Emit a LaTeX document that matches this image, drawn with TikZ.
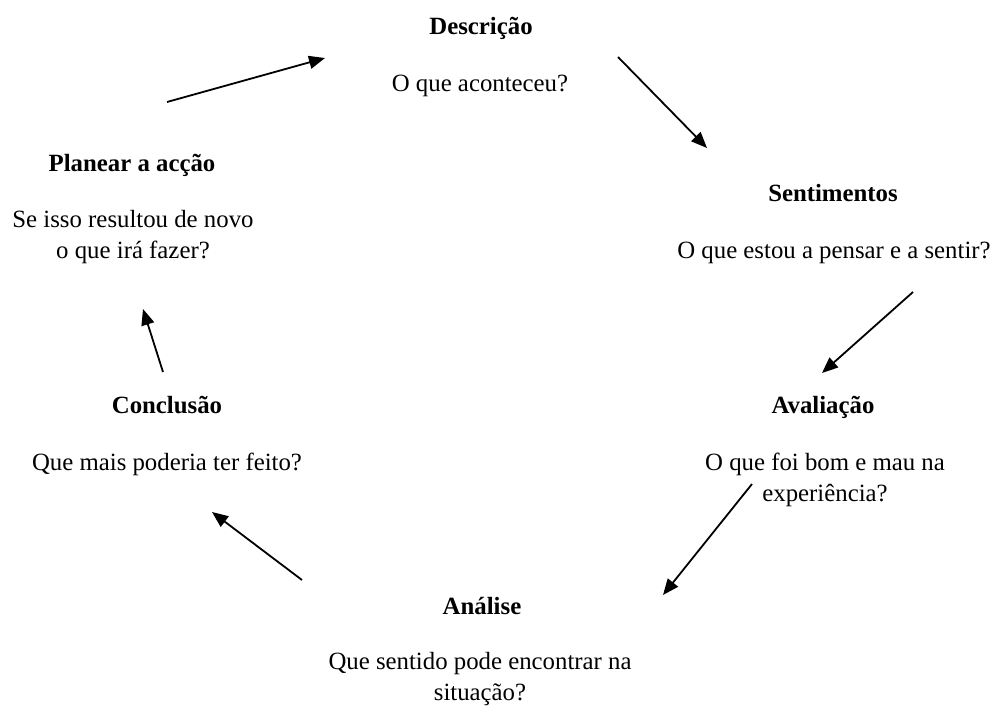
\documentclass[tikz,border=0pt]{standalone}
\usepackage{fontspec}
\setmainfont{Liberation Serif}
\usetikzlibrary{arrows.meta}
\begin{document}
\begin{tikzpicture}[x=1pt,y=-1pt,
  every node/.style={inner sep=0pt,outer sep=0pt,font=\fontsize{24.8}{31.5}\selectfont},
  head/.style={anchor=base,font=\fontsize{24.8}{31.5}\selectfont\bfseries},
  sub/.style={anchor=base,align=center},
  subtwo/.style={anchor=north,align=center},
  cyc/.style={line width=1.8pt,-{Triangle[length=16pt,width=13pt]}}]
\useasboundingbox (0,0) rectangle (993,705);
% headings
\node[head] (desc) at (481,34) {Descrição};
\node[sub]  (descq) at (480,91) {O que aconteceu?};
\node[head] (sent) at (833,201) {Sentimentos};
\node[sub]  (sentq) at (834,258) {O que estou a pensar e a sentir?};
\node[head] (aval) at (823,413) {Avaliação};
\node[subtwo] (avalq) at (825,453) {O que foi bom e mau na\\experiência?};
\node[head] (anal) at (482,614) {Análise};
\node[subtwo] (analq) at (480,652) {Que sentido pode encontrar na\\situação?};
\node[head] (conc) at (167,413) {Conclusão};
\node[sub]  (concq) at (167,470) {Que mais poderia ter feito?};
\node[head] (plan) at (132,171) {Planear a acção};
\node[subtwo] (planq) at (133,210) {Se isso resultou de novo\\o que irá fazer?};
% arrow end points
\coordinate (a1s) at (167,102); \coordinate (a1e) at (325,58);
\coordinate (a2s) at (618,57);  \coordinate (a2e) at (707,148);
\coordinate (a3s) at (913,292); \coordinate (a3e) at (822,373);
\coordinate (a4s) at (752,484); \coordinate (a4e) at (663,595);
\coordinate (a5s) at (302,580); \coordinate (a5e) at (212,512);
\coordinate (a6s) at (163,372); \coordinate (a6e) at (143,309);
\draw[cyc] (a1s) -- (a1e);
\draw[cyc] (a2s) -- (a2e);
\draw[cyc] (a3s) -- (a3e);
\draw[cyc] (a4s) -- (a4e);
\draw[cyc] (a5s) -- (a5e);
\draw[cyc] (a6s) -- (a6e);
\end{tikzpicture}
\end{document}
